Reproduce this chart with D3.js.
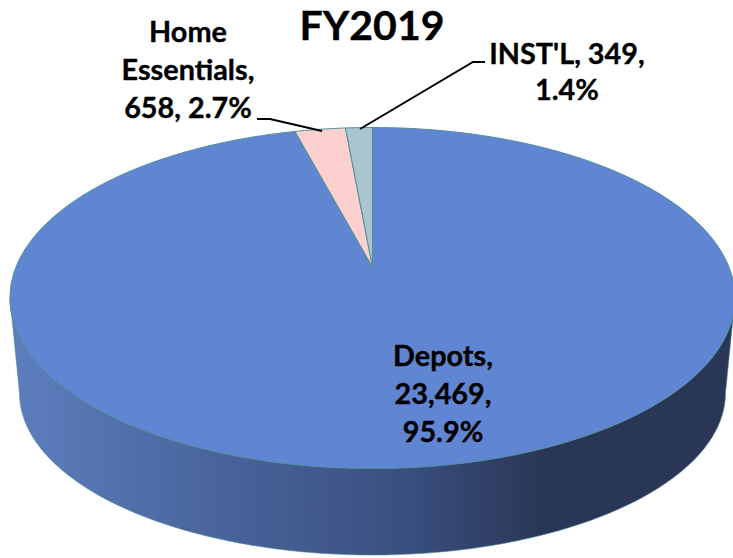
<!DOCTYPE html>
<html><head><meta charset="utf-8">
<script src="https://cdn.jsdelivr.net/npm/d3@7/dist/d3.min.js"></script>
<style>html,body{margin:0;padding:0;background:#fff}svg{display:block}
text{font-family:Lato,"Open Sans",sans-serif;font-weight:700;fill:#000;stroke:#000;stroke-width:0.35px}</style>
</head><body><svg id="c" width="733" height="558"></svg>
<script>
const title = "FY2019";
const categories = ["Depots", "Home Essentials", "INST'L"];
const values = [23469, 658, 349];
const percents = ["95.9%", "2.7%", "1.4%"];
const colors = ["#6085D2", "#FBD0CF", "#A9C5CD"];
const labelLines = [["Depots,", "23,469,", "95.9%"], ["Home", "Essentials,", "658, 2.7%"], ["INST'L, 349,", "1.4%"]];
const labelPos = [[443, 366], [188, 42], [567, 64]];
const leaderPts = [null, [[257,119],[270,119],[322,131]], [[485,62],[473,62],[360,129]]];

const W = 733, H = 558;
const cx = 372.5, cy = 298, rx = 362.5, ry = 170.5;
const apexY = 267;
const botCy = 393, botRx = 353, botRy = 162;
const c = (cy - apexY) / ry, s = Math.sqrt(1 - c * c);
const svg = d3.select("#c");

const defs = svg.append("defs");
const grad = defs.append("linearGradient").attr("id", "side").attr("gradientUnits", "userSpaceOnUse")
  .attr("x1", 10).attr("x2", 733).attr("y1", 0).attr("y2", 0);
[[0, "#5D7EBE"], [0.3, "#48639B"], [0.55, "#3A4F7F"], [0.74, "#2A3655"], [1, "#2A3655"]]
  .forEach(([o, col]) => grad.append("stop").attr("offset", o).attr("stop-color", col));

// Perspective mapping of the pie disc onto the tilted ellipse
function project(a, r) {
  const X = r * Math.sin(a), Y = -r * Math.cos(a), w = 1 - c * Y;
  return [cx + rx * X * s / w, cy + ry * (Y - c) / w];
}
const line = d3.line();

// Pie starts at 12 o'clock and runs clockwise
const arcs = d3.pie().sort(null)(values);

// Side wall
const sideTop = d3.range(0, 181, 2).map(t => {
  const a = Math.PI * t / 180; return [cx - rx * Math.cos(a), cy + ry * Math.sin(a)];
});
const sideBot = d3.range(180, -1, -2).map(t => {
  const a = Math.PI * t / 180; return [cx - botRx * Math.cos(a), botCy + botRy * Math.sin(a)];
});
svg.append("path").attr("d", line(sideTop.concat(sideBot)) + "Z")
  .attr("fill", "url(#side)").attr("stroke", "#4F8794").attr("stroke-width", 0.6);

// Top slices
svg.selectAll("path.slice").data(arcs).join("path").attr("class", "slice")
  .attr("d", d => {
    const n = Math.max(4, Math.ceil((d.endAngle - d.startAngle) * 90));
    const pts = d3.range(n + 1).map(i => project(d.startAngle + (d.endAngle - d.startAngle) * i / n, 1));
    return line([[cx, apexY]].concat(pts)) + "Z";
  })
  .attr("fill", (d, i) => colors[i])
  .attr("stroke", "#4F8F9A").attr("stroke-width", 1).attr("stroke-linejoin", "round");

// Leader lines
svg.selectAll("path.leader").data(leaderPts.filter(Boolean)).join("path").attr("class", "leader")
  .attr("d", line).attr("fill", "none").attr("stroke", "#000").attr("stroke-width", 2);

// Labels
const lineGap = [38, 38, 36];
labelLines.forEach((lines, i) => {
  const t = svg.append("text").attr("text-anchor", "middle").attr("font-size", 28.8);
  lines.forEach((l, j) => t.append("tspan").attr("x", labelPos[i][0]).attr("y", labelPos[i][1] + j * lineGap[i]).text(l));
});
svg.append("text").attr("x", 372).attr("y", 40).attr("text-anchor", "middle").attr("font-size", 41).text(title);
</script></body></html>
